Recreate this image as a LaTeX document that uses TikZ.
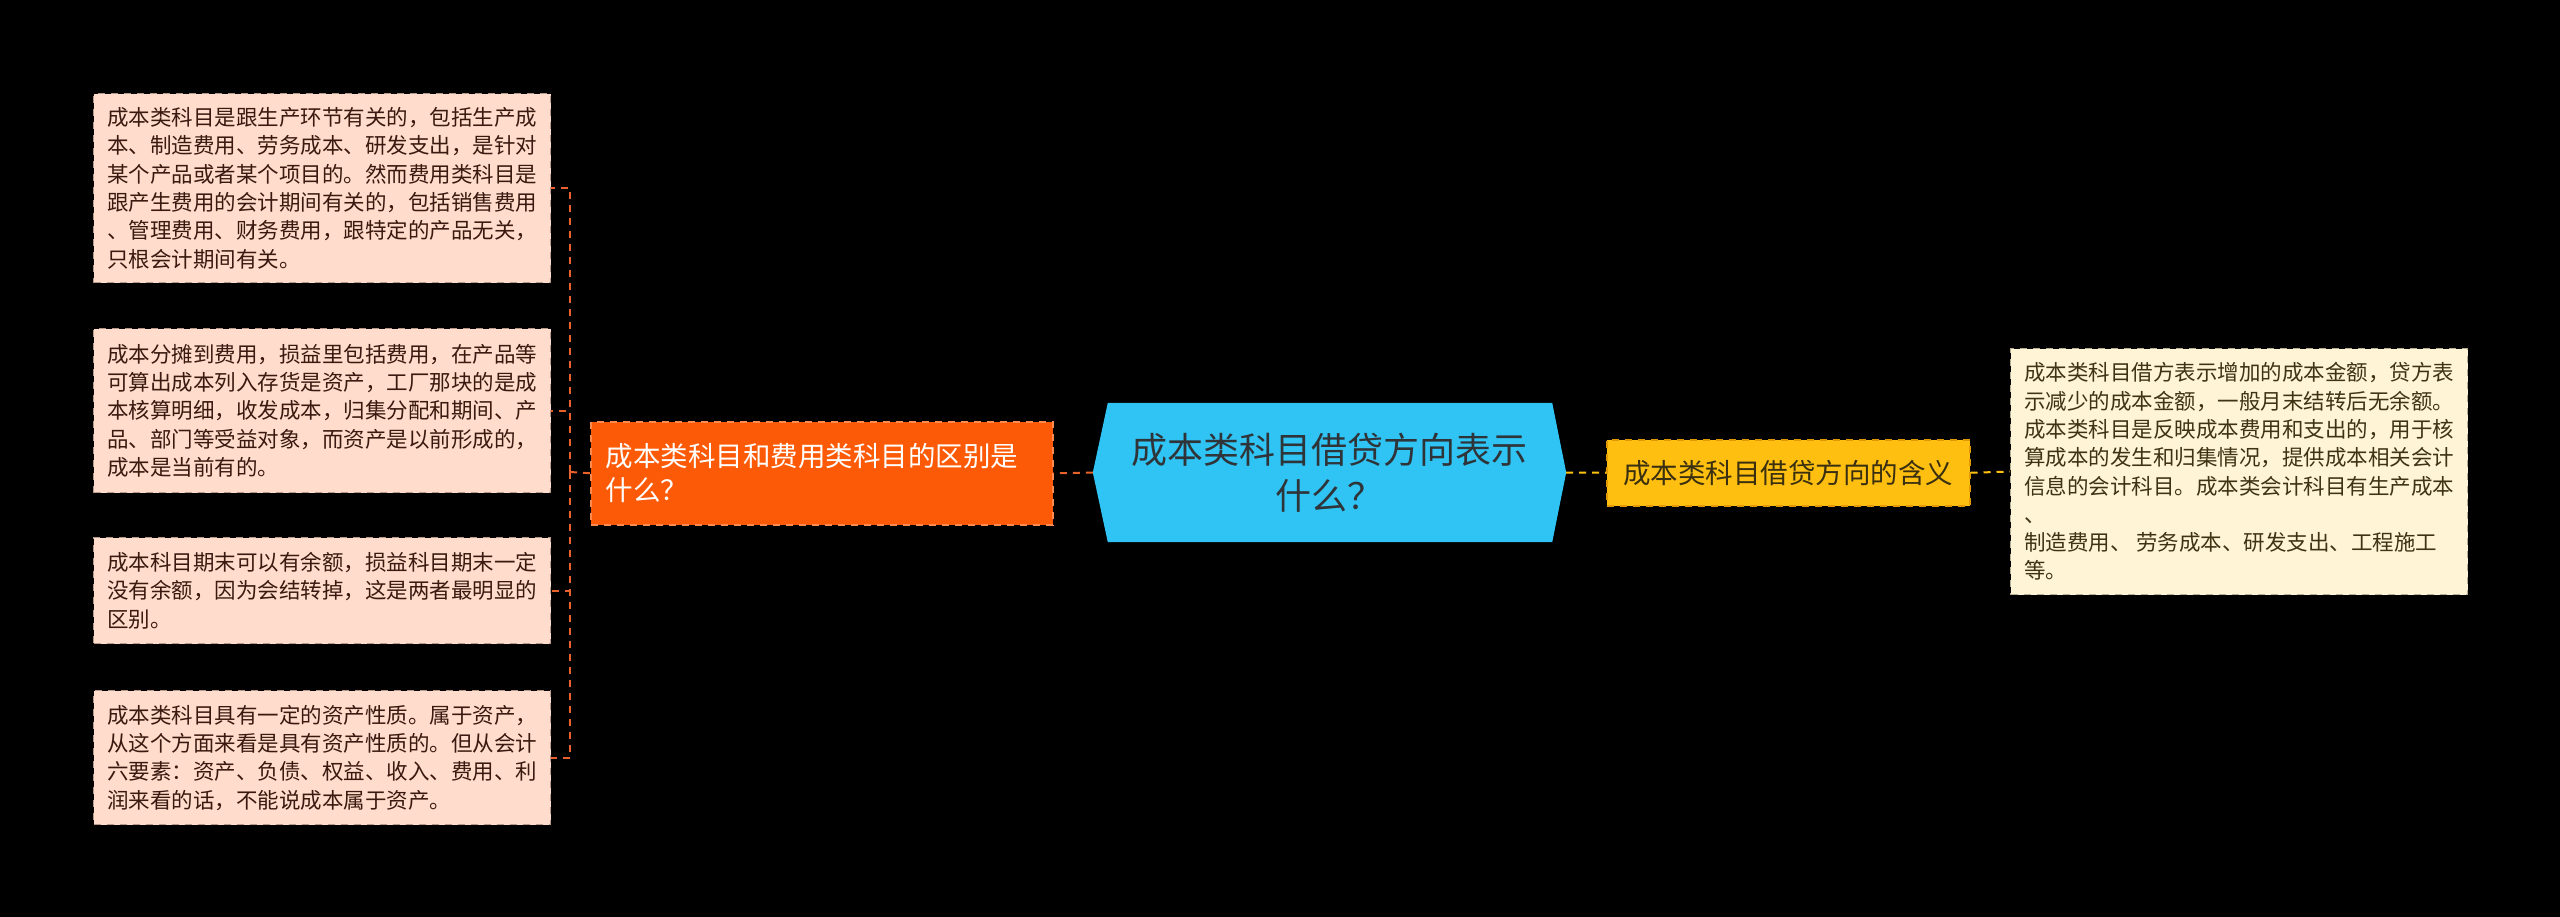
\documentclass[tikz,border=0pt]{standalone}
\usepackage{fontspec}
\setmainfont{Noto Sans CJK SC}
\pgfdeclarelayer{bg}
\pgfsetlayers{bg,main}
\definecolor{bgc}{HTML}{000000}
\definecolor{lfill}{HTML}{FFDCCB}
\definecolor{lborder}{HTML}{B89888}
\definecolor{ltext}{HTML}{3A1A10}
\definecolor{rfill}{HTML}{FFF4D5}
\definecolor{rborder}{HTML}{B8AE90}
\definecolor{rtext}{HTML}{3E3414}
\definecolor{ofill}{HTML}{FC5A06}
\definecolor{oborder}{HTML}{FF8A50}
\definecolor{cfill}{HTML}{30C4F5}
\definecolor{ctext}{HTML}{2E3438}
\definecolor{yfill}{HTML}{FFBF10}
\definecolor{yborder}{HTML}{E09A00}
\definecolor{ytext}{HTML}{3A3010}
\definecolor{oline}{HTML}{E8622A}
\definecolor{yline}{HTML}{FFC20E}
\tikzset{
  dsh/.style={dash pattern=on 7pt off 6pt},
  leafl/.style={draw=lborder, fill=lfill, dsh, line width=1.2pt, text=ltext,
     minimum width=457pt, inner sep=0pt, align=left, anchor=north west,
     font=\fontsize{21.5pt}{28.3pt}\selectfont},
  leafr/.style={draw=rborder, fill=rfill, dsh, line width=1.2pt, text=rtext,
     minimum width=457pt, inner sep=0pt, align=left, anchor=north west,
     font=\fontsize{21.5pt}{28.3pt}\selectfont},
  obox/.style={draw=oborder, fill=ofill, dsh, line width=1.5pt, text=white,
     minimum width=462pt, minimum height=103pt, inner xsep=15pt, inner ysep=0pt,
     text width=432pt, align=left, anchor=north west,
     font=\fontsize{27.5pt}{34pt}\selectfont},
  ybox/.style={draw=yborder, fill=yfill, dsh, line width=1.5pt, text=ytext,
     minimum width=363pt, minimum height=66pt, inner sep=0pt, anchor=north west,
     font=\fontsize{27.5pt}{34pt}\selectfont},
  cnode/.style={minimum width=473pt, minimum height=139pt, inner sep=0pt,
     text=ctext, align=center, font=\fontsize{36pt}{46pt}\selectfont},
  oconn/.style={draw=oline, line width=2pt, dsh},
  yconn/.style={draw=yline, line width=2pt, dsh},
}
\begin{document}
\begin{tikzpicture}[x=1pt,y=-1pt]
\useasboundingbox (0,0) rectangle (2560,917);
\begin{pgfonlayer}{bg}
\fill[bgc] (0,0) rectangle (2560,917);
\end{pgfonlayer}

% central node
\node[cnode] (c) at (1329.5,472.5) {成本类科目借贷方向表示\\什么？};
\begin{pgfonlayer}{bg}
\fill[cfill] (c.west) -- ([xshift=15pt]c.north west) -- ([xshift=-14pt]c.north east)
  -- (c.east) -- ([xshift=-14pt]c.south east) -- ([xshift=15pt]c.south west) -- cycle;
\end{pgfonlayer}

% left branch
\node[obox] (o) at (590,421) {成本类科目和费用类科目的区别是\\什么？};

\node[leafl, minimum height=189pt] (b1) at (93,93) {成本类科目是跟生产环节有关的，包括生产成\\本、制造费用、劳务成本、研发支出，是针对\\某个产品或者某个项目的。然而费用类科目是\\跟产生费用的会计期间有关的，包括销售费用\\、管理费用、财务费用，跟特定的产品无关，\\只根会计期间有关。};
\node[leafl, minimum height=164pt] (b2) at (93,328) {成本分摊到费用，损益里包括费用，在产品等\\可算出成本列入存货是资产，工厂那块的是成\\本核算明细，收发成本，归集分配和期间、产\\品、部门等受益对象，而资产是以前形成的，\\成本是当前有的。};
\node[leafl, minimum height=106pt] (b3) at (93,537) {成本科目期末可以有余额，损益科目期末一定\\没有余额，因为会结转掉，这是两者最明显的\\区别。};
\node[leafl, minimum height=134pt] (b4) at (93,690) {成本类科目具有一定的资产性质。属于资产，\\从这个方面来看是具有资产性质的。但从会计\\六要素：资产、负债、权益、收入、费用、利\\润来看的话，不能说成本属于资产。};

% right branch
\node[ybox] (y) at (1606,439) {成本类科目借贷方向的含义};
\node[leafr, minimum height=246pt] (r1) at (2010,348) {成本类科目借方表示增加的成本金额，贷方表\\示减少的成本金额，一般月末结转后无余额。\\成本类科目是反映成本费用和支出的，用于核\\算成本的发生和归集情况，提供成本相关会计\\信息的会计科目。成本类会计科目有生产成本\\、\\制造费用、 劳务成本、研发支出、工程施工\\等。};

% connectors
\coordinate (br) at (570,472);
\draw[oconn] (c.west) -- (o.east);
\draw[oconn] (o.west) -- (br);
\draw[oconn] (br) |- (b1.east);
\draw[oconn] (br) |- (b2.east);
\draw[oconn] (br) |- (b3.east);
\draw[oconn] (br) |- (b4.east);

\draw[yconn] (c.east) -- (y.west);
\draw[yconn] (y.east) -- (r1.west);
\end{tikzpicture}
\end{document}
